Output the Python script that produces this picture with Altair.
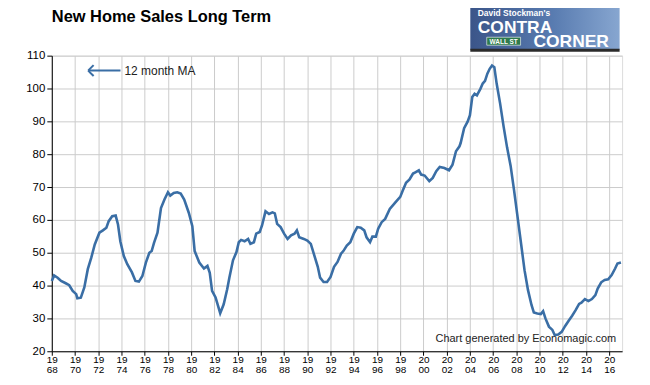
import altair as alt
import pandas as pd

# ---- data: 12-month moving average of new home sales ----
years = [
    1968.0, 1968.2, 1968.5, 1968.8, 1969.2, 1969.5, 1969.8, 1970.1, 1970.2, 1970.5,
    1970.8, 1971.1, 1971.4, 1971.7, 1972.1, 1972.4, 1972.7, 1972.9, 1973.2, 1973.5,
    1973.7, 1973.9, 1974.2, 1974.5, 1974.9, 1975.2, 1975.5, 1975.8, 1976.1, 1976.4,
    1976.6, 1976.8, 1977.1, 1977.4, 1977.7, 1978.0, 1978.2, 1978.5, 1978.8, 1979.1,
    1979.4, 1979.8, 1980.1, 1980.3, 1980.7, 1981.1, 1981.4, 1981.6, 1981.8, 1982.1,
    1982.5, 1982.8, 1983.1, 1983.3, 1983.6, 1983.9, 1984.1, 1984.3, 1984.6, 1984.9,
    1985.1, 1985.4, 1985.6, 1985.9, 1986.1, 1986.4, 1986.7, 1987.0, 1987.2, 1987.4,
    1987.7, 1988.0, 1988.3, 1988.6, 1988.9, 1989.1, 1989.3, 1989.7, 1990.0, 1990.3,
    1990.6, 1990.9, 1991.1, 1991.4, 1991.7, 1992.0, 1992.3, 1992.6, 1992.9, 1993.1,
    1993.4, 1993.7, 1994.0, 1994.3, 1994.6, 1994.9, 1995.1, 1995.4, 1995.6, 1995.9,
    1996.1, 1996.4, 1996.7, 1997.1, 1997.6, 1998.0, 1998.2, 1998.5, 1998.8, 1999.1,
    1999.3, 1999.6, 1999.8, 2000.1, 2000.5, 2000.8, 2001.1, 2001.4, 2001.8, 2002.2,
    2002.5, 2002.8, 2003.1, 2003.2, 2003.5, 2003.8, 2004.0, 2004.2, 2004.4, 2004.6,
    2004.9, 2005.1, 2005.3, 2005.5, 2005.7, 2005.9, 2006.1, 2006.3, 2006.6, 2006.9,
    2007.2, 2007.5, 2007.8, 2008.1, 2008.4, 2008.7, 2009.0, 2009.3, 2009.5, 2009.8,
    2010.1, 2010.3, 2010.5, 2010.8, 2011.1, 2011.3, 2011.6, 2011.9, 2012.2, 2012.5,
    2012.8, 2013.1, 2013.4, 2013.6, 2013.9, 2014.2, 2014.5, 2014.8, 2015.0, 2015.3,
    2015.6, 2015.9, 2016.2, 2016.5, 2016.7, 2017.0,
]
sales_ma = [
    41.4, 43.1, 42.4, 41.4, 40.7, 40.1, 38.4, 37.4, 36.1, 36.3,
    39.4, 45.0, 48.5, 52.5, 56.1, 56.8, 57.6, 59.6, 61.1, 61.3,
    58.6, 53.5, 49.0, 46.5, 44.0, 41.4, 41.2, 42.9, 47.0, 50.0,
    50.5, 53.0, 56.1, 63.6, 66.2, 68.4, 67.4, 68.2, 68.4, 68.0,
    66.2, 62.1, 58.1, 50.5, 47.0, 45.2, 46.0, 43.9, 38.4, 36.4,
    31.6, 34.3, 38.9, 42.6, 47.7, 50.2, 53.2, 53.9, 53.5, 54.2,
    52.7, 53.2, 55.8, 56.3, 58.3, 62.6, 61.8, 62.3, 62.0, 58.8,
    57.8, 55.8, 54.2, 55.3, 55.8, 56.8, 54.7, 54.2, 53.7, 52.7,
    49.2, 45.7, 42.4, 41.1, 41.1, 42.6, 45.7, 47.2, 49.7, 50.5,
    52.2, 53.2, 55.8, 57.8, 57.6, 56.8, 54.7, 53.2, 54.9, 54.9,
    57.3, 59.3, 60.3, 63.3, 65.4, 67.0, 68.8, 71.3, 72.3, 74.1,
    74.5, 75.1, 73.8, 73.5, 71.8, 72.8, 74.8, 76.1, 75.8, 75.1,
    76.8, 80.9, 82.4, 83.4, 87.9, 89.9, 91.9, 97.4, 98.4, 97.9,
    99.9, 101.5, 102.3, 104.5, 106.0, 107.0, 106.5, 101.5, 95.4, 88.4,
    82.0, 76.5, 69.0, 60.9, 52.8, 44.7, 38.6, 34.1, 31.8, 31.5,
    31.3, 32.2, 30.0, 27.5, 26.5, 24.9, 25.1, 25.9, 27.7, 29.3,
    30.8, 32.5, 34.4, 34.8, 35.9, 35.3, 35.9, 37.1, 39.1, 41.0,
    41.7, 41.9, 43.2, 45.2, 46.7, 47.0,
]
x_ticks = list(range(1968, 2017, 2))
y_ticks = list(range(20, 111, 10))

TITLE = "New Home Sales Long Term"
LEGEND = "12 month MA"
CREDIT = "Chart generated by Economagic.com"

df = pd.DataFrame({"year": years, "sales": sales_ma})

W, H = 573, 297
FONT = "Arial, Liberation Sans, sans-serif"
BLUE = "#3a6ea5"
one = pd.DataFrame({"k": [0]})

xs = alt.Scale(domain=[1968, 2017.1], nice=False, zero=False)
ys = alt.Scale(domain=[20, 110], nice=False, zero=False)

line = alt.Chart(df).mark_line(color=BLUE, strokeWidth=2.6).encode(
    x=alt.X(
        "year:Q", scale=xs, title=None,
        axis=alt.Axis(
            values=x_ticks, tickSize=4, labelPadding=-1,
            labelExpr="[substring(toString(datum.value),0,2), substring(toString(datum.value),2,4)]",
            labelFontSize=10, labelLineHeight=10.5, labelFont=FONT, labelColor="#000",
            domainColor="#000", tickColor="#000", gridColor="#cccccc", gridWidth=1,
            labelOverlap=False, labelFlush=False,
        ),
    ),
    y=alt.Y(
        "sales:Q", scale=ys, title=None,
        axis=alt.Axis(
            values=y_ticks, tickSize=5, labelPadding=2, labelFontSize=11.5,
            labelFont=FONT, labelColor="#000", domainColor="#000", tickColor="#000",
            gridColor="#cccccc", gridWidth=1, format="d",
        ),
    ),
)

def txt(s, px, py, size, weight="normal", align="left", color="#000", **kw):
    return alt.Chart(one).mark_text(
        text=s, fontSize=size, fontWeight=weight, align=align, baseline="alphabetic",
        font=FONT, color=color, **kw
    ).encode(x=alt.value(px), y=alt.value(py))

def seg(x1, y1, x2, y2, color=BLUE, width=2):
    return alt.Chart(one).mark_rule(color=color, strokeWidth=width).encode(
        x=alt.value(x1), y=alt.value(y1), x2=alt.value(x2), y2=alt.value(y2)
    )

title = txt(TITLE, 0, -34, 16.5, weight="bold")

arrow = seg(37, 15, 69, 15) + seg(36.5, 15, 42, 9.5) + seg(36.5, 15, 42, 20.5)
legend = txt(LEGEND, 73, 19.5, 12, color="#222")

credit = txt(CREDIT, 567, H - 9, 11, align="right", color="#222")

# approximate logo box
logo_bg = alt.Chart(one).mark_rect(
    color=alt.Gradient(
        gradient="linear",
        stops=[alt.GradientStop(color="#3b5589", offset=0),
               alt.GradientStop(color="#587bb0", offset=0.55),
               alt.GradientStop(color="#87a6d0", offset=1)],
        x1=0, x2=1, y1=0, y2=0,
    )
).encode(x=alt.value(420.5), x2=alt.value(570.5), y=alt.value(-56), y2=alt.value(-6))
logo_shadow = alt.Chart(one).mark_rect(color="#2b2b2b").encode(
    x=alt.value(420.5), x2=alt.value(570.5), y=alt.value(-7), y2=alt.value(-4))
sign = alt.Chart(one).mark_rect(color="#2f7a4c", stroke="#ffffff", strokeWidth=0.6).encode(
    x=alt.value(437), x2=alt.value(471), y=alt.value(-18.5), y2=alt.value(-10.5))
sign_t = txt("WALL ST", 454, -12, 6.5, weight="bold", align="center", color="#fff")

def logo_text(s, px, py, size):
    return txt(s, px, py, size, weight="bold", color="#ffffff")

logo = (logo_bg + logo_shadow
        + logo_text("David Stockman's", 428, -40, 8.5)
        + logo_text("CONTRA", 428, -23, 17.5)
        + logo_text("CORNER", 484, -9, 17.5)
        + sign + sign_t)

chart = alt.layer(line, title, arrow, legend, credit, logo).properties(
    width=W, height=H,
    padding={"left": 44, "top": 47, "right": 20, "bottom": 28},
    autosize=alt.AutoSizeParams(type="none"),
).configure_view(stroke="#000", strokeWidth=1).configure(background="#ffffff")

chart.save("out.html", embed_options={"renderer": "svg", "actions": False})
